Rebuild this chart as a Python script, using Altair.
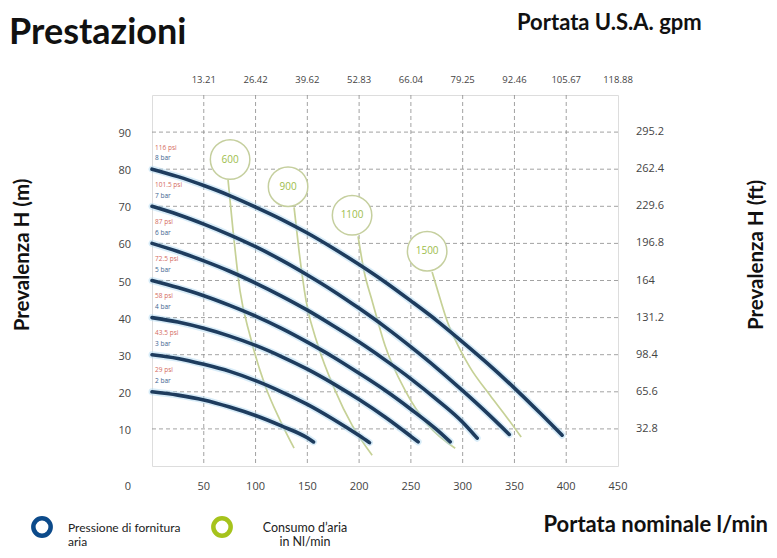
import altair as alt
import pandas as pd

# ---------------- data ----------------
x_ticks = [50, 100, 150, 200, 250, 300, 350, 400, 450]
gpm_labels = ["13.21", "26.42", "39.62", "52.83", "66.04", "79.25", "92.46", "105.67", "118.88"]
y_ticks = [10, 20, 30, 40, 50, 60, 70, 80, 90]
ft_labels = ["32.8", "65.6", "98.4", "131.2", "164", "196.8", "229.6", "262.4", "295.2"]

bar_labels = ["8 bar", "7 bar", "6 bar", "5 bar", "4 bar", "3 bar", "2 bar"]
psi_labels = ["116 psi", "101.5 psi", "87 psi", "72.5 psi", "58 psi", "43.5 psi", "29 psi"]
start_heads = [80, 70, 60, 50, 40, 30, 20]

q8 = [0, 25, 50, 75, 100, 125, 150, 175, 200, 225, 250, 275, 300, 325, 350, 375, 396]
h8 = [80, 78.0, 75.6, 72.9, 69.8, 66.5, 62.8, 58.7, 54.3, 49.6, 44.5, 39.2, 33.4, 27.4, 21.0, 14.2, 8.3]
q7 = [0, 25, 50, 75, 100, 125, 150, 175, 200, 225, 250, 275, 300, 325, 345]
h7 = [70, 67.8, 65.2, 62.3, 59.1, 55.5, 51.5, 47.2, 42.5, 37.5, 32.1, 26.4, 20.3, 13.9, 8.5]
q6 = [0, 25, 50, 75, 100, 125, 150, 175, 200, 225, 250, 275, 300, 314]
h6 = [60, 57.8, 55.3, 52.5, 49.3, 45.8, 42.0, 37.8, 33.4, 28.6, 23.5, 17.9, 11.8, 7.5]
q5 = [0, 25, 50, 75, 100, 125, 150, 175, 200, 225, 250, 275, 288]
h5 = [50, 48.1, 45.9, 43.3, 40.4, 37.1, 33.4, 29.4, 25.0, 20.4, 15.3, 9.8, 6.5]
q4 = [0, 25, 50, 75, 100, 125, 150, 175, 200, 225, 250, 257]
h4 = [40, 38.8, 37.1, 35.0, 32.5, 29.5, 26.1, 22.2, 17.9, 13.2, 8.0, 6.5]
q3 = [0, 25, 50, 75, 100, 125, 150, 175, 200, 210]
h3 = [30, 29.0, 27.4, 25.5, 23.0, 20.0, 16.6, 12.6, 8.2, 6.3]
q2 = [0, 25, 50, 75, 100, 125, 150, 156]
h2 = [20, 19.1, 17.8, 15.9, 13.6, 10.8, 7.6, 6.5]

air_labels = ["600", "900", "1100", "1500"]
circle_q = [75.4, 131.4, 193.2, 265.7]
circle_h = [82.6, 75.3, 67.6, 57.9]
g600_q = [73.4, 78.3, 85.0, 94.7, 109.2, 123.7, 137.2]
g600_h = [77.2, 63.3, 47.2, 35.1, 21.7, 12.3, 4.8]
g900_q = [137.2, 142.0, 148.8, 160.4, 176.8, 193.2, 212.6]
g900_h = [69.7, 57.9, 44.5, 32.4, 20.4, 11.0, 2.9]
g1100_q = [199.0, 204.8, 212.6, 225.1, 244.4, 266.7, 292.8]
g1100_h = [61.9, 52.5, 44.5, 32.4, 20.4, 11.0, 4.8]
g1500_q = [270.5, 278.3, 285.0, 295.7, 307.2, 326.6, 341.1, 356.5]
g1500_h = [52.3, 45.0, 39.1, 32.4, 26.5, 19.0, 13.7, 7.8]

# ---------------- tables ----------------
curve_sets = [(q8, h8), (q7, h7), (q6, h6), (q5, h5), (q4, h4), (q3, h3), (q2, h2)]
rows = []
for lab, (qs, hs) in zip(bar_labels, curve_sets):
    for i, (q, h) in enumerate(zip(qs, hs)):
        rows.append({"serie": lab, "ord": i, "Q": q, "H": h})
curves = pd.DataFrame(rows)

green_sets = [(g600_q, g600_h), (g900_q, g900_h), (g1100_q, g1100_h), (g1500_q, g1500_h)]
grows = []
for lab, (qs, hs) in zip(air_labels, green_sets):
    for i, (q, h) in enumerate(zip(qs, hs)):
        grows.append({"aria": lab, "ord": i, "Q": q, "H": h})
greens = pd.DataFrame(grows)

circles = pd.DataFrame({"Q": circle_q, "H": circle_h, "lab": air_labels})
plabels = pd.DataFrame({
    "Q": [3] * len(bar_labels),
    "Hpsi": [h + 5.8 for h in start_heads],
    "Hbar": [h + 2.9 for h in start_heads],
    "psi": psi_labels,
    "bar": bar_labels,
})
xtick_df = pd.DataFrame({"Q": x_ticks, "gpm": gpm_labels, "lmin": [str(v) for v in x_ticks]})
ytick_df = pd.DataFrame({"H": y_ticks, "ft": ft_labels, "m": [str(v) for v in y_ticks]})

W, H = 466, 371
xs = alt.Scale(domain=[0, 450], nice=False, zero=False)
ys = alt.Scale(domain=[0, 100], nice=False, zero=False)
LABEL_FONT = "Open Sans"
TXT_FONT = "Lato"
LBL_COLOR = "#444"

X = alt.X("Q:Q", scale=xs, axis=None)
Y = alt.Y("H:Q", scale=ys, axis=None)

vgrid = alt.Chart(xtick_df[xtick_df["Q"] < 450]).mark_rule(
    color="#8a8a8a", strokeWidth=0.8, strokeDash=[4, 3]).encode(x=X)
hgrid = alt.Chart(ytick_df).mark_rule(
    color="#8a8a8a", strokeWidth=0.8, strokeDash=[4, 3]).encode(y=Y)

bottom_txt = alt.Chart(xtick_df).mark_text(font=LABEL_FONT, fontSize=11, color=LBL_COLOR,
                                           baseline="middle").encode(
    x=X, y=alt.value(392), text="lmin:N")
top_txt = alt.Chart(xtick_df).mark_text(font=LABEL_FONT, fontSize=9.5, color=LBL_COLOR,
                                        baseline="middle").encode(
    x=X, y=alt.value(-15), text="gpm:N")
left_txt = alt.Chart(ytick_df).mark_text(font=LABEL_FONT, fontSize=11, color=LBL_COLOR, align="right",
                                         baseline="middle", dy=2).encode(
    x=alt.value(-21), y=Y, text="m:N")
right_txt = alt.Chart(ytick_df).mark_text(font=LABEL_FONT, fontSize=11, color=LBL_COLOR, align="left",
                                          baseline="middle").encode(
    x=alt.value(484), y=Y, text="ft:N")

green_lines = alt.Chart(greens).mark_line(color="#c6d196", strokeWidth=1.7, interpolate="monotone").encode(
    x=X, y=Y, detail="aria:N", order="ord:Q")

halo = alt.Chart(curves).mark_line(color="#a8d4f0", strokeWidth=7, opacity=0.45,
                                    interpolate="monotone", strokeCap="round").encode(
    x=X, y=Y, detail="serie:N", order="ord:Q")
blue = alt.Chart(curves).mark_line(color="#1e3c5e", strokeWidth=3.6,
                                    interpolate="monotone", strokeCap="round").encode(
    x=X, y=Y, detail="serie:N", order="ord:Q")

circ = alt.Chart(circles).mark_point(shape="circle", size=1560, filled=False, fill="white",
                                     fillOpacity=1, stroke="#c5cf9e", strokeWidth=1.5, opacity=1).encode(
    x=X, y=Y)
circ_txt = alt.Chart(circles).mark_text(font=LABEL_FONT, fontSize=10, color="#9dbd4c").encode(
    x=X, y=Y, text="lab:N")

psi_txt = alt.Chart(plabels).mark_text(font=LABEL_FONT, fontSize=6.5, color="#d46a5e", align="left").encode(
    x=X, y=alt.Y("Hpsi:Q", scale=ys, axis=None), text="psi:N")
bar_txt = alt.Chart(plabels).mark_text(font=LABEL_FONT, fontSize=6.5, color="#3d6490", align="left").encode(
    x=X, y=alt.Y("Hbar:Q", scale=ys, axis=None), text="bar:N")

one = alt.Data(values=[{"a": 1}])


def txt(text, x, y, size, weight="normal", align="left", angle=0, baseline="middle", color="#111"):
    mk = dict(text=text, font=TXT_FONT, fontSize=size, fontWeight=weight, align=align,
              baseline=baseline, color=color)
    if angle:
        mk["angle"] = angle
    return alt.Chart(one).mark_text(**mk).encode(x=alt.value(x), y=alt.value(y))


zero_lbl = alt.Chart(one).mark_text(text="0", font=LABEL_FONT, fontSize=11, color=LBL_COLOR).encode(
    x=alt.value(-24), y=alt.value(392))

title = txt("Prestazioni", -143, -51, 36, weight="bold", baseline="alphabetic")
gpm_title = txt("Portata U.S.A. gpm", 365, -65, 22, weight="bold", baseline="alphabetic")
ylab_l = txt("Prevalenza H (m)", -129, 160, 20.5, weight="bold", align="center", angle=270)
ylab_r = txt("Prevalenza H (ft)", 605, 160, 20.5, weight="bold", align="center", angle=270)
xlab = txt("Portata nominale l/min", 616, 430, 22, weight="bold", align="right")

ring_blue = alt.Chart(one).mark_point(shape="circle", size=300, filled=False, stroke="#0c4a8a",
                                      strokeWidth=4.5, opacity=1).encode(
    x=alt.value(-110), y=alt.value(432))
ring_green = alt.Chart(one).mark_point(shape="circle", size=300, filled=False, stroke="#a6c31c",
                                       strokeWidth=4.5, opacity=1).encode(
    x=alt.value(70), y=alt.value(432))
leg1a = txt("Pressione di fornitura", -84, 433, 12, color="#222")
leg1b = txt("aria", -84, 447, 12, color="#222")
leg2a = txt("Consumo d\u2019aria", 153, 433, 12.5, align="center", color="#222")
leg2b = txt("in Nl/min", 153, 447, 12.5, align="center", color="#222")

chart = alt.layer(
    vgrid, hgrid, green_lines, halo, blue, circ, circ_txt, psi_txt, bar_txt,
    bottom_txt, top_txt, left_txt, right_txt, zero_lbl, title, gpm_title, ylab_l, ylab_r, xlab,
    ring_blue, ring_green, leg1a, leg1b, leg2a, leg2b,
).properties(
    width=W, height=H,
    autosize=alt.AutoSizeParams(type="none"),
    padding={"left": 144, "top": 87, "right": 151, "bottom": 84},
).configure_view(stroke="#b5b5b5", strokeWidth=1.2).configure(background="white")

chart.save("out.html", embed_options={"renderer": "svg", "actions": False})
